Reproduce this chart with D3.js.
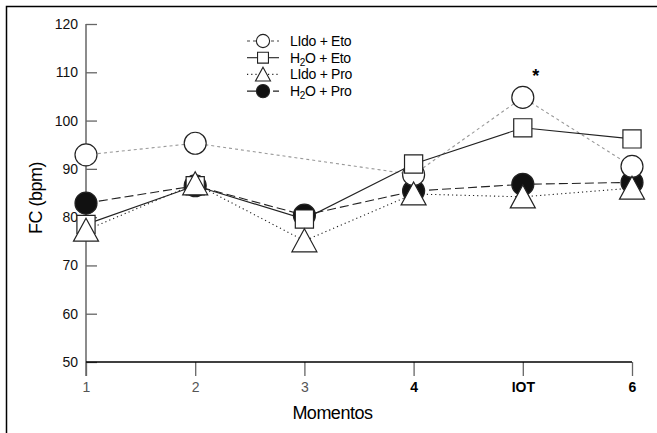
<!DOCTYPE html>
<html>
<head>
<meta charset="utf-8">
<script src="https://cdn.jsdelivr.net/npm/d3@7"></script>
<style>
  body { margin: 0; background: #fff; }
  svg { display: block; }
  text { font-family: "Liberation Sans", Arial, sans-serif; }
</style>
</head>
<body>
<svg id="chart" width="657" height="433"></svg>
<script>
// data
const moments = ["1", "2", "3", "4", "IOT", "6"];
const yTicks = [50, 60, 70, 80, 90, 100, 110, 120];
const lidoEto = [92.9, 95.3, null, 88.8, 104.8, 90.5];
const h2oEto = [78.5, 86.5, 79.6, 91.0, 98.5, 96.2];
const lidoPro = [77.3, 86.9, 75.1, 84.8, 84.2, 86.0];
const h2oPro = [82.9, 86.5, 80.4, 85.4, 86.8, 87.2];
const seriesNames = ["LIdo + Eto", "H2O + Eto", "LIdo + Pro", "H2O + Pro"];

const svg = d3.select("#chart");

// frame (only top/left show in the crop)
svg.append("rect")
    .attr("x", 6.5).attr("y", 6.5)
    .attr("width", 720).attr("height", 520)
    .attr("fill", "none")
    .attr("stroke", "#000")
    .attr("stroke-width", 1.5);

const x = d3.scalePoint().domain(moments).range([86, 632]);
const y = d3.scaleLinear().domain([50, 120]).range([362, 24]);

// y axis, ticks pointing inward
const gy = svg.append("g").attr("transform", "translate(86,0)");
gy.call(d3.axisRight(y).tickValues(yTicks).tickSize(11).tickFormat(d3.format("d")));
gy.select(".domain").remove();
gy.selectAll(".tick line").attr("stroke", "#666").attr("stroke-width", 1.3);
gy.selectAll(".tick text")
    .attr("x", -8).attr("text-anchor", "end")
    .attr("font-size", 14).attr("fill", "#111")
    .style("font-family", "'Liberation Sans', Arial, sans-serif");
gy.append("line")
    .attr("x1", 0).attr("x2", 0)
    .attr("y1", y(120)).attr("y2", 376)
    .attr("stroke", "#666").attr("stroke-width", 1.5);

// x axis, ticks pointing down
const gx = svg.append("g").attr("transform", "translate(0,362)");
gx.call(d3.axisBottom(x).tickSize(14).tickPadding(6));
gx.select(".domain").remove();
gx.append("line")
    .attr("x1", x("1")).attr("x2", x("6"))
    .attr("stroke", "#000").attr("stroke-width", 1.5);
gx.selectAll(".tick line").attr("stroke", "#666").attr("stroke-width", 1.3);
gx.selectAll(".tick text")
    .attr("font-size", 14)
    .style("font-family", "'Liberation Sans', Arial, sans-serif")
    .attr("fill", (d, i) => i < 3 ? "#555" : "#000")
    .attr("font-weight", (d, i) => i < 3 ? "normal" : "bold");

// axis titles
svg.append("text")
    .attr("x", x("3") + 28).attr("y", 419)
    .attr("text-anchor", "middle")
    .attr("font-size", 18)
    .attr("letter-spacing", -0.5)
    .text("Momentos");
svg.append("text")
    .attr("transform", "translate(42,198) rotate(-90)")
    .attr("text-anchor", "middle")
    .attr("font-size", 18)
    .attr("letter-spacing", -0.5)
    .text("FC (bpm)");

const styles = [
    { values: lidoEto, marker: "circle", fill: "#fff", stroke: "#999", dash: "3,3" },
    { values: h2oEto, marker: "square", fill: "#fff", stroke: "#222", dash: null },
    { values: lidoPro, marker: "triangle", fill: "#fff", stroke: "#222", dash: "1.2,3" },
    { values: h2oPro, marker: "dot", fill: "#111", stroke: "#222", dash: "9,4" }
];

const line = d3.line()
    .x(d => x(d.m))
    .y(d => y(d.v));

const linesG = svg.append("g");
styles.forEach(s => {
    const pts = moments.map((m, i) => ({ m: m, v: s.values[i] })).filter(d => d.v !== null);
    linesG.append("path")
        .attr("d", line(pts))
        .attr("fill", "none")
        .attr("stroke", s.stroke)
        .attr("stroke-width", 1.1)
        .attr("stroke-dasharray", s.dash);
});

function markerPath(type, big) {
    const k = big ? 1 : 0.6;
    if (type === "square") return d3.symbol(d3.symbolSquare, 330 * k * k)();
    if (type === "triangle") return "M0," + (-12 * k) + "L" + (12.5 * k) + "," + (11 * k) + "L" + (-12.5 * k) + "," + (11 * k) + "Z";
    return d3.symbol(d3.symbolCircle, Math.PI * 11 * 11 * k * k)();
}

// draw order: filled circle, open circle, square, triangle
const order = [3, 0, 1, 2];
const markG = svg.append("g");
order.forEach(idx => {
    const s = styles[idx];
    const pts = moments.map((m, i) => ({ m: m, v: s.values[i] })).filter(d => d.v !== null);
    markG.selectAll(null)
        .data(pts)
        .enter()
        .append("path")
        .attr("transform", d => "translate(" + x(d.m) + "," + y(d.v) + ")")
        .attr("d", markerPath(s.marker, true))
        .attr("fill", s.fill)
        .attr("stroke", "#222")
        .attr("stroke-width", 1.2);
});

// significance star
svg.append("text")
    .attr("x", x("IOT") + 13).attr("y", 82)
    .attr("text-anchor", "middle")
    .attr("font-size", 18)
    .attr("font-weight", "bold")
    .text("*");

// legend
const legend = svg.append("g").attr("transform", "translate(247,41)");
styles.forEach((s, i) => {
    const row = legend.append("g").attr("transform", "translate(0," + i * 16.7 + ")");
    row.append("line")
        .attr("x1", 0).attr("x2", 32)
        .attr("stroke", s.stroke === "#999" ? "#444" : s.stroke)
        .attr("stroke-width", 1.1)
        .attr("stroke-dasharray", s.dash);
    row.append("path")
        .attr("transform", "translate(16,0)")
        .attr("d", markerPath(s.marker, false))
        .attr("fill", s.fill)
        .attr("stroke", "#222")
        .attr("stroke-width", 1.1);
    const t = row.append("text")
        .attr("x", 43).attr("y", 5)
        .attr("font-size", 14)
        .attr("letter-spacing", -0.3);
    const name = seriesNames[i];
    if (name.startsWith("H2O")) {
        t.append("tspan").text("H");
        t.append("tspan").attr("font-size", 10).attr("dy", 3).text("2");
        t.append("tspan").attr("dy", -3).text(name.slice(2));
    } else {
        t.text(name);
    }
});
</script>
</body>
</html>
